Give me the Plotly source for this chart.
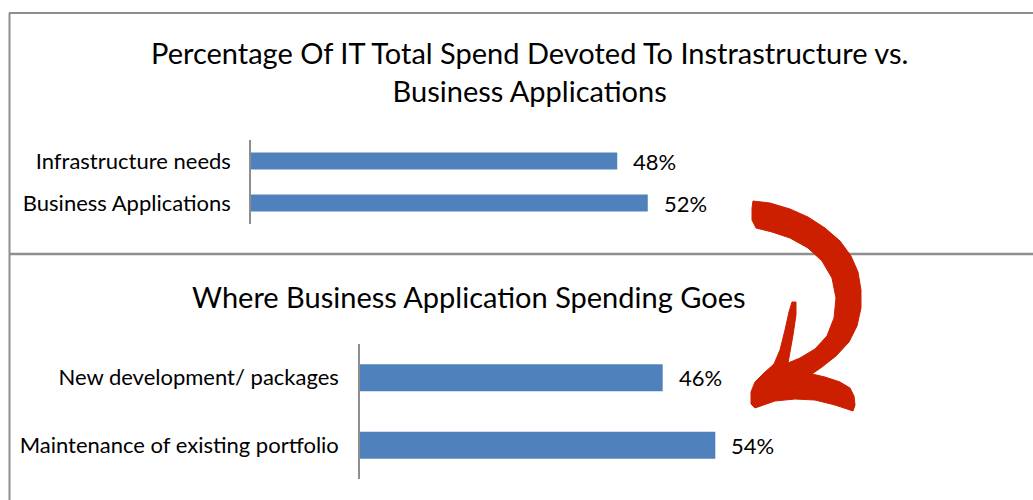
import plotly.graph_objects as go

# ---------------- data ----------------
top_categories = ["Infrastructure needs", "Business Applications"]
top_values = [48, 52]
bottom_categories = ["New development/ packages", "Maintenance of existing portfolio"]
bottom_values = [46, 54]
top_title = "Percentage Of IT Total Spend Devoted To Instrastructure vs.<br>Business Applications"
bottom_title = "Where Business Application Spending Goes"

# ---------------- layout helpers ----------------
W, H = 1033, 500


def px(x):
    return x / W


def py(y):
    return 1 - y / H


BLUE = "#4F81BD"
FONT = "Lato"
GRAY = "#8e8e8e"
TXT = "#000"

fig = go.Figure()
fig.add_trace(go.Bar(x=top_values, y=top_categories, orientation="h",
                     marker=dict(color=BLUE, line=dict(width=0)), width=0.4,
                     xaxis="x", yaxis="y", hoverinfo="skip", showlegend=False))
fig.add_trace(go.Bar(x=bottom_values, y=bottom_categories, orientation="h",
                     marker=dict(color=BLUE, line=dict(width=0)), width=0.4,
                     xaxis="x2", yaxis="y2", hoverinfo="skip", showlegend=False))

annotations = []
for c, v in zip(top_categories, top_values):
    annotations.append(dict(x=v, y=c, xref="x", yref="y", text=f"{v}%", showarrow=False,
                            xanchor="left", xshift=14, font=dict(size=22, color=TXT, family=FONT)))
for c, v in zip(bottom_categories, bottom_values):
    annotations.append(dict(x=v, y=c, xref="x2", yref="y2", text=f"{v}%", showarrow=False,
                            xanchor="left", xshift=14, font=dict(size=22, color=TXT, family=FONT)))

annotations.append(dict(x=px(529), y=py(71), xref="paper", yref="paper", text=top_title,
                        showarrow=False, xanchor="center", yanchor="middle", align="center",
                        font=dict(size=29, color=TXT, family=FONT)))
annotations.append(dict(x=px(469), y=py(296), xref="paper", yref="paper", text=bottom_title,
                        showarrow=False, xanchor="center", yanchor="middle",
                        font=dict(size=29, color=TXT, family=FONT)))

# panel borders
shapes = [
    dict(type="line", xref="paper", yref="paper", x0=px(9.5), x1=px(9.5), y0=py(13), y1=py(500),
         line=dict(color=GRAY, width=2)),
    dict(type="line", xref="paper", yref="paper", x0=px(9), x1=px(1033), y0=py(13), y1=py(13),
         line=dict(color=GRAY, width=2)),
    dict(type="line", xref="paper", yref="paper", x0=px(9), x1=px(1033), y0=py(254), y1=py(254),
         line=dict(color=GRAY, width=2.5)),
]

# hand-drawn red arrow (decoration)
arrow_pts = [
    (753, 201), (770, 203), (790, 209), (808, 217), (825, 228), (840, 241), (851, 256),
    (858, 272), (861, 290), (861, 308), (857, 326), (849, 342), (836, 356), (822, 367),
    (812, 374), (825, 377), (840, 382), (850, 388), (854, 396), (855, 405), (853, 411),
    (835, 405), (815, 400), (795, 399), (775, 401), (755, 408), (751, 404),
    (751, 392), (755, 382), (764, 373), (774, 364), (780, 350), (785, 330), (789, 312),
    (792, 302), (796, 302), (796, 315), (793, 335), (790, 352), (788, 363),
    (800, 358), (815, 349), (827, 336), (834, 318), (836, 298), (832, 278), (822, 261),
    (808, 248), (790, 238), (772, 232), (756, 228), (752, 220), (752, 208),
]
path = "M " + " L ".join(f"{px(x):.5f},{py(y):.5f}" for x, y in arrow_pts) + " Z"
shapes.append(dict(type="path", xref="paper", yref="paper", path=path,
                   fillcolor="#CC1F00", line=dict(color="#CC1F00", width=1), layer="above"))

fig.update_layout(
    width=W, height=H,
    margin=dict(l=0, r=0, t=0, b=0),
    paper_bgcolor="white", plot_bgcolor="rgba(0,0,0,0)",
    font=dict(family=FONT, color=TXT),
    bargap=0.6,
    xaxis=dict(domain=[px(251), px(251 + 763)], range=[0, 100], visible=False, fixedrange=True),
    yaxis=dict(domain=[py(224), py(140)], autorange="reversed", showline=True, linecolor=GRAY,
               linewidth=1.5, ticks="", ticklabelstandoff=14, showgrid=False, zeroline=False,
               tickfont=dict(size=22, color=TXT, family=FONT), fixedrange=True),
    xaxis2=dict(domain=[px(360), px(360 + 658)], range=[0, 100], visible=False, fixedrange=True,
                anchor="y2"),
    yaxis2=dict(domain=[py(479), py(344)], autorange="reversed", showline=True, linecolor=GRAY,
                linewidth=1.5, ticks="", ticklabelstandoff=15, showgrid=False, zeroline=False,
                tickfont=dict(size=22, color=TXT, family=FONT), anchor="x2", fixedrange=True),
    annotations=annotations,
    shapes=shapes,
)

fig.write_html("out.html")
